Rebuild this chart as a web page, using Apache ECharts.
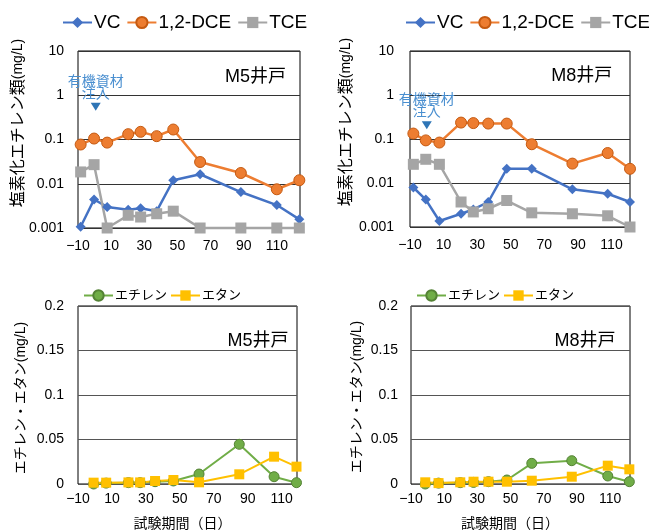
<!DOCTYPE html>
<html>
<head>
<meta charset="utf-8">
<script src="https://cdn.jsdelivr.net/npm/echarts@6/dist/echarts.min.js"></script>
<style>html,body{margin:0;padding:0;background:#fff}#c{width:649px;height:531px}</style>
</head>
<body>
<div id="c"></div>
<script>
// ---- data ----
const daysM5Top = [-8.4, -0.3, 7.6, 20.3, 27.8, 37.5, 47.5, 63.7, 88.3, 110, 123.6];
const m5VC  = [0.00107, 0.0044, 0.003, 0.0026, 0.0028, 0.0024, 0.012, 0.0164, 0.0065, 0.0033, 0.00157];
const m5DCE = [0.077, 0.105, 0.085, 0.132, 0.149, 0.119, 0.168, 0.031, 0.0175, 0.0075, 0.012];
const m5TCE = [0.0185, 0.027, 0.001, 0.00194, 0.00177, 0.0021, 0.0024, 0.001, 0.001, 0.001, 0.001];

const daysM8Top = [-8, -0.6, 7.5, 20.4, 27.7, 36.6, 47.6, 62.5, 86.7, 107.7, 121];
const m8VC  = [0.0079, 0.0042, 0.00137, 0.002, 0.0025, 0.0037, 0.021, 0.021, 0.0072, 0.0057, 0.0037];
const m8DCE = [0.133, 0.093, 0.083, 0.236, 0.23, 0.224, 0.224, 0.076, 0.0276, 0.048, 0.021];
const m8TCE = [0.0266, 0.0346, 0.0266, 0.0037, 0.0022, 0.0026, 0.004, 0.0021, 0.002, 0.0018, 0.001];

const daysM5Bottom = [-0.8, 6.6, 19.7, 26.6, 35.4, 46.2, 61.3, 85, 105.5, 118.7];
const m5Ethylene = [0.0, 0.001, 0.0015, 0.0015, 0.0026, 0.0034, 0.0112, 0.0446, 0.0082, 0.0015];
const m5Ethane   = [0.0015, 0.0015, 0.0018, 0.0018, 0.0034, 0.0045, 0.0019, 0.0109, 0.0307, 0.0195];

const daysM8Bottom = [-1.4, 6.6, 19.7, 27.7, 36.7, 47.8, 62.8, 86.9, 108.6, 121.6];
const m8Ethylene = [0.0, 0.001, 0.0015, 0.0018, 0.0026, 0.0045, 0.0232, 0.0262, 0.009, 0.0026];
const m8Ethane   = [0.0019, 0.001, 0.0019, 0.0026, 0.0026, 0.0026, 0.0037, 0.0082, 0.0206, 0.0165];

const chlorNames = ['VC', '1,2-DCE', 'TCE'];
const ethNames = ['エチレン', 'エタン'];
const wellNames = ['M5井戸', 'M8井戸'];
const noteText = '有機資材\n注入';
const noteM5 = [0.7, 0.55];
const noteM8 = [0, 0.205];
const xMax = [124, 121, 119, 122];

// ---- styling ----
const FONT = "'Liberation Sans','Noto Sans CJK JP',sans-serif";
const C_VC = '#4472C4', C_DCE = '#ED7D31', C_TCE = '#A5A5A5', C_ETY = '#70AD47', C_ETA = '#FFC000';

const pairs = (xs, ys) => xs.map((x, i) => [x, ys[i]]);

const grids = [
  {left: 78, top: 51, width: 222, height: 177},
  {left: 410, top: 51, width: 220, height: 176},
  {left: 78, top: 306, width: 219, height: 178},
  {left: 411, top: 306, width: 219, height: 178}
].map(g => Object.assign(g, {show: true, borderColor: '#000', borderWidth: 1, backgroundColor: 'transparent'}));

const minusFmt = v => String(v).replace('-', '\u2212');

const xAxes = [0, 1, 2, 3].map(i => ({
  type: 'value', gridIndex: i, min: -10, max: xMax[i], interval: 20,
  axisLine: {show: false}, axisTick: {show: false}, splitLine: {show: false},
  axisLabel: {showMaxLabel: false, fontSize: 14, color: '#000', fontFamily: FONT,
              margin: i < 2 ? 11 : 8, formatter: minusFmt}
}));

const yAxes = [0, 1].map(i => ({
  type: 'log', logBase: 10, gridIndex: i, min: 0.001, max: 10,
  axisLine: {show: false}, axisTick: {show: false},
  splitLine: {show: true, lineStyle: {color: '#333', width: 1}},
  axisLabel: {fontSize: 14, color: '#000', fontFamily: FONT, margin: i === 0 ? 14 : 16,
              formatter: v => String(Number(v.toPrecision(3)))}
})).concat([2, 3].map(i => ({
  type: 'value', gridIndex: i, min: 0, max: 0.2, interval: 0.05,
  axisLine: {show: false}, axisTick: {show: false},
  splitLine: {show: true, lineStyle: {color: '#555', width: 1}},
  axisLabel: {fontSize: 14, color: '#000', fontFamily: FONT, margin: i === 2 ? 14 : 13,
              formatter: v => String(Number(v.toPrecision(3)))}
})));

function noteMark(coord) {
  return {
    symbol: 'triangle', symbolRotate: 180, symbolSize: [10, 8], silent: true,
    itemStyle: {color: '#2E75B6'},
    label: {show: true, position: 'top', distance: 3, formatter: noteText,
            color: '#4A8FD0', fontSize: 14, lineHeight: 12, fontFamily: FONT},
    data: [{coord: coord}]
  };
}

function chlorSeries(idx, days, vc, dce, tce, note) {
  return [
    {name: chlorNames[0], type: 'line', xAxisIndex: idx, yAxisIndex: idx, data: pairs(days, vc),
     symbol: 'diamond', symbolSize: 10, clip: false, color: C_VC,
     lineStyle: {width: 2.5, color: C_VC}, itemStyle: {color: C_VC}, markPoint: noteMark(note)},
    {name: chlorNames[1], type: 'line', xAxisIndex: idx, yAxisIndex: idx, data: pairs(days, dce),
     symbol: 'circle', symbolSize: 11, clip: false, color: C_DCE,
     lineStyle: {width: 2.5, color: C_DCE}, itemStyle: {color: C_DCE, borderColor: '#C55A11', borderWidth: 1}},
    {name: chlorNames[2], type: 'line', xAxisIndex: idx, yAxisIndex: idx, data: pairs(days, tce),
     symbol: 'rect', symbolSize: 11, clip: false, color: C_TCE,
     lineStyle: {width: 2.5, color: C_TCE}, itemStyle: {color: C_TCE}}
  ];
}
function ethSeries(idx, days, ety, eta) {
  return [
    {name: ethNames[0], type: 'line', xAxisIndex: idx, yAxisIndex: idx, data: pairs(days, ety),
     symbol: 'circle', symbolSize: 10, clip: false, color: C_ETY,
     lineStyle: {width: 2, color: C_ETY}, itemStyle: {color: C_ETY, borderColor: '#548235', borderWidth: 1}},
    {name: ethNames[1], type: 'line', xAxisIndex: idx, yAxisIndex: idx, data: pairs(days, eta),
     symbol: 'rect', symbolSize: 10, clip: false, color: C_ETA,
     lineStyle: {width: 2, color: C_ETA}, itemStyle: {color: C_ETA}}
  ];
}

const series = [].concat(
  chlorSeries(0, daysM5Top, m5VC, m5DCE, m5TCE, noteM5),
  chlorSeries(1, daysM8Top, m8VC, m8DCE, m8TCE, noteM8),
  ethSeries(2, daysM5Bottom, m5Ethylene, m5Ethane),
  ethSeries(3, daysM8Bottom, m8Ethylene, m8Ethane)
);

function legend(left, top, names, fs, ih, gap) {
  return {left: left, top: top, width: 320, padding: 0, data: names, itemWidth: 29, itemHeight: ih,
          itemGap: gap, selectedMode: false,
          textStyle: {fontSize: fs, color: '#000', fontFamily: FONT, padding: [0, 0, 0, -3]}};
}

function txt(x, y, text, fs, rot, rich) {
  const el = {type: 'text', x: x, y: y, silent: true,
    style: {text: text, fontSize: fs, fontFamily: FONT, fill: '#000', align: 'center', verticalAlign: 'middle'}};
  if (rot) el.rotation = Math.PI / 2;
  if (rich) el.style.rich = rich;
  return el;
}
const richTop = {a: {fontSize: 16, fontFamily: FONT, fill: '#000'}, b: {fontSize: 14, fontFamily: FONT, fill: '#000'}};
const richBot = {a: {fontSize: 14, fontFamily: FONT, fill: '#000'}, b: {fontSize: 14, fontFamily: FONT, fill: '#000'}};

const option = {
  animation: false,
  backgroundColor: '#fff',
  grid: grids,
  xAxis: xAxes,
  yAxis: yAxes,
  legend: [
    legend(62, 13, chlorNames, 19, 14, 6),
    legend(405, 13, chlorNames, 19, 14, 6),
    legend(83, 289, ethNames, 13, 13, 3),
    legend(416, 289, ethNames, 13, 13, 3)
  ],
  series: series,
  graphic: [
    txt(255.5, 77, wellNames[0], 18),
    txt(581.7, 76, wellNames[1], 18),
    txt(258, 341, wellNames[0], 18),
    txt(585, 341, wellNames[1], 18),
    txt(18.5, 123, '{a|塩素化エチレン類}{b|(mg/L)}', 16, true, richTop),
    txt(346.5, 122, '{a|塩素化エチレン類}{b|(mg/L)}', 16, true, richTop),
    txt(21, 398, '{a|エチレン・エタン}{b|(mg/L)}', 14, true, richBot),
    txt(357.5, 397, '{a|エチレン・エタン}{b|(mg/L)}', 14, true, richBot),
    txt(182.5, 524, '試験期間（日）', 14),
    txt(510, 524, '試験期間（日）', 14)
  ]
};

const chart = echarts.init(document.getElementById('c'), null, {renderer: 'canvas'});
chart.setOption(option);
</script>
</body>
</html>
